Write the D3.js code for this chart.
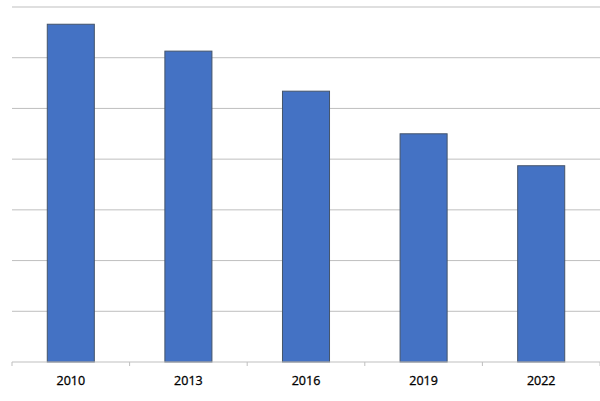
<!DOCTYPE html>
<html>
<head>
<meta charset="utf-8">
<script src="https://cdn.jsdelivr.net/npm/d3@7"></script>
<style>
  body { margin: 0; background: #fff; }
  svg { display: block; }
</style>
</head>
<body>
<svg id="chart" width="600" height="401"></svg>
<script>
// data (y axis has no labels, unit = one gridline)
const years = ["2010", "2013", "2016", "2019", "2022"];
const values = [6.66, 6.13, 5.34, 4.50, 3.87];
const gridTicks = [0, 1, 2, 3, 4, 5, 6, 7];

const svg = d3.select("#chart");
const margin = { top: 7, right: 0, bottom: 39, left: 12 };
const width = 600 - margin.left - margin.right;
const height = 401 - margin.top - margin.bottom;

const g = svg.append("g").attr("transform", `translate(${margin.left},${margin.top})`);

const x = d3.scaleBand().domain(years).range([0, width]).paddingInner(0.6).paddingOuter(0.3);
const y = d3.scaleLinear().domain([0, 7]).range([height, 0]);

// gridlines
g.selectAll(".grid")
  .data(gridTicks.filter(d => d > 0))
  .enter().append("line")
  .attr("x1", 0).attr("x2", width)
  .attr("y1", d => y(d)).attr("y2", d => y(d))
  .attr("stroke", "#bfbfbf").attr("stroke-width", 1);

// bars
g.selectAll(".bar")
  .data(values)
  .enter().append("rect")
  .attr("x", (d, i) => x(years[i]))
  .attr("y", d => y(d))
  .attr("width", x.bandwidth())
  .attr("height", d => height - y(d))
  .attr("fill", "#4472c4")
  .attr("stroke", "#44546a")
  .attr("stroke-width", 1);

// x axis: line + ticks between categories
const step = x.step();
const tickPos = d3.range(years.length + 1).map(i => i * step);
g.append("line")
  .attr("x1", 0).attr("x2", width)
  .attr("y1", height).attr("y2", height)
  .attr("stroke", "#bfbfbf");
g.selectAll(".tk")
  .data(tickPos)
  .enter().append("line")
  .attr("x1", d => d).attr("x2", d => d)
  .attr("y1", height).attr("y2", height + 4)
  .attr("stroke", "#bfbfbf");

g.selectAll(".lbl")
  .data(years)
  .enter().append("text")
  .attr("x", d => x(d) + x.bandwidth() / 2)
  .attr("y", height + 23)
  .attr("text-anchor", "middle")
  .attr("font-family", "Open Sans, sans-serif")
  .attr("font-size", 12.5)
  .attr("fill", "#000")
  .style("paint-order", "stroke")
  .attr("stroke", "#000")
  .attr("stroke-width", 0.3)
  .text(d => d);
</script>
</body>
</html>
